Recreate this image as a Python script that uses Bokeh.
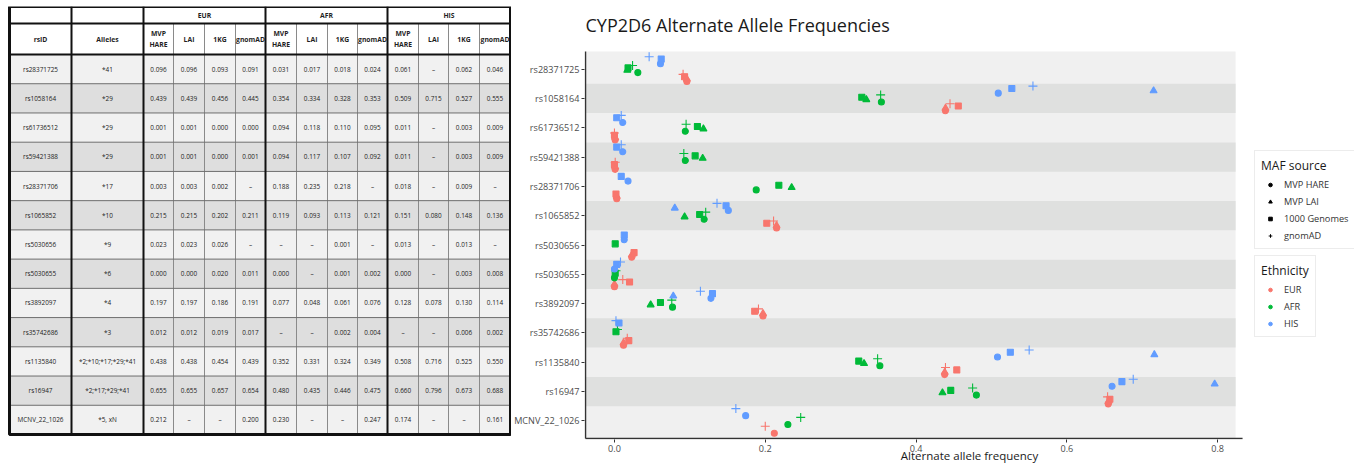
from bokeh.plotting import figure
from bokeh.layouts import row
from bokeh.models import (Range1d, FixedTicker, NumeralTickFormatter, Legend,
                          LegendItem, Label, ColumnDataSource)
from bokeh.embed import file_html
from bokeh.resources import INLINE
from bokeh.core.properties import value

# ------------------------------------------------------------------ data
rsids = ["rs28371725", "rs1058164", "rs61736512", "rs59421388", "rs28371706",
         "rs1065852", "rs5030656", "rs5030655", "rs3892097", "rs35742686",
         "rs1135840", "rs16947", "MCNV_22_1026"]
alleles = ["*41", "*29", "*29", "*29", "*17", "*10", "*9", "*6", "*4", "*3",
           "*2;*10;*17;*29;*41", "*2;*17;*29;*41", "*5, xN"]

ethnicities = ["EUR", "AFR", "HIS"]
maf_sources = ["MVP HARE", "MVP LAI", "1000 Genomes", "gnomAD"]
table_subheads = ["MVP\nHARE", "LAI", "1KG", "gnomAD"]

EUR_HARE = [0.096, 0.439, 0.001, 0.001, 0.003, 0.215, 0.023, 0.000, 0.197, 0.012, 0.438, 0.655, 0.212]
EUR_LAI = [0.096, 0.439, 0.001, 0.001, 0.003, 0.215, 0.023, 0.000, 0.197, 0.012, 0.438, 0.655, None]
EUR_1KG = [0.093, 0.456, 0.000, 0.000, 0.002, 0.202, 0.026, 0.020, 0.186, 0.019, 0.454, 0.657, None]
EUR_GNOMAD = [0.091, 0.445, 0.000, 0.001, None, 0.211, None, 0.011, 0.191, 0.017, 0.439, 0.654, 0.200]

AFR_HARE = [0.031, 0.354, 0.094, 0.094, 0.188, 0.119, None, 0.000, 0.077, None, 0.352, 0.480, 0.230]
AFR_LAI = [0.017, 0.334, 0.118, 0.117, 0.235, 0.093, None, None, 0.048, None, 0.331, 0.435, None]
AFR_1KG = [0.018, 0.328, 0.110, 0.107, 0.218, 0.113, 0.001, 0.001, 0.061, 0.002, 0.324, 0.446, None]
AFR_GNOMAD = [0.024, 0.353, 0.095, 0.092, None, 0.121, None, 0.002, 0.076, 0.004, 0.349, 0.475, 0.247]

HIS_HARE = [0.061, 0.509, 0.011, 0.011, 0.018, 0.151, 0.013, 0.000, 0.128, None, 0.508, 0.660, 0.174]
HIS_LAI = [None, 0.715, None, None, None, 0.080, None, None, 0.078, None, 0.716, 0.796, None]
HIS_1KG = [0.062, 0.527, 0.003, 0.003, 0.009, 0.148, 0.013, 0.003, 0.130, 0.006, 0.525, 0.673, None]
HIS_GNOMAD = [0.046, 0.555, 0.009, 0.009, None, 0.136, None, 0.008, 0.114, 0.002, 0.550, 0.688, 0.161]

x_ticks = [0.0, 0.2, 0.4, 0.6, 0.8]

freqs = {
    "EUR": [EUR_HARE, EUR_LAI, EUR_1KG, EUR_GNOMAD],
    "AFR": [AFR_HARE, AFR_LAI, AFR_1KG, AFR_GNOMAD],
    "HIS": [HIS_HARE, HIS_LAI, HIS_1KG, HIS_GNOMAD],
}

# ------------------------------------------------------------------ styles
FONT = "Open Sans"
eth_color = {"EUR": "#F8766D", "AFR": "#00BA38", "HIS": "#619CFF"}
eth_offset = {"EUR": -0.30, "AFR": 0.0, "HIS": 0.30}
src_marker = {"MVP HARE": "circle", "MVP LAI": "triangle", "1000 Genomes": "square", "gnomAD": "cross"}
src_size = {"MVP HARE": 6, "MVP LAI": 7, "1000 Genomes": 6, "gnomAD": 9}
src_offset = {"MVP HARE": -0.12, "MVP LAI": -0.04, "1000 Genomes": 0.04, "gnomAD": 0.12}

H = 465
TW = 511
SW = 1354 - TW
TOP_B, BOT_B = 6, 26           # shared frame borders (plots in a row share frame edges)
FRAME_BOTTOM = H - BOT_B       # 439

# ------------------------------------------------------------------ table
n = len(rsids)
col_edges = [9, 71, 143, 173, 204, 235, 265, 296, 327, 357, 387, 418, 448, 479, 510]
top, h1, h2, bottom = 6, 23, 54, 434
row_h = (bottom - h2) / n
row_edges = [h2 + i * row_h for i in range(n + 1)]

t = figure(width=TW, height=H, x_range=Range1d(0, TW), y_range=Range1d(FRAME_BOTTOM, TOP_B),
           toolbar_location=None, output_backend="svg", min_border_left=0, min_border_right=0,
           min_border_top=TOP_B, min_border_bottom=BOT_B,
           x_axis_location=None, y_axis_location=None)
t.grid.visible = False
t.outline_line_color = None
t.border_fill_color = "white"
t.background_fill_color = "white"

t.quad(left=[col_edges[0]], right=[col_edges[-1]], top=[top], bottom=[h2],
       fill_color="white", line_color=None)
t.quad(left=[col_edges[0]] * n, right=[col_edges[-1]] * n,
       top=row_edges[:-1], bottom=row_edges[1:],
       fill_color=["#F1F1F1" if i % 2 == 0 else "#DEDEDE" for i in range(n)],
       line_color=None)

thin_cols = [3, 4, 5, 7, 8, 9, 11, 12, 13]
t.segment(x0=[col_edges[c] for c in thin_cols], x1=[col_edges[c] for c in thin_cols],
          y0=[h1] * len(thin_cols), y1=[bottom] * len(thin_cols),
          line_color="#8A8A8A", line_width=1)
t.segment(x0=[col_edges[0]] * (n - 1), x1=[col_edges[-1]] * (n - 1),
          y0=row_edges[1:-1], y1=row_edges[1:-1], line_color="#6E6E6E", line_width=1)
thick_cols = [1, 2, 6, 10]
t.segment(x0=[col_edges[c] for c in thick_cols], x1=[col_edges[c] for c in thick_cols],
          y0=[top] * len(thick_cols), y1=[bottom] * len(thick_cols),
          line_color="#111111", line_width=2)
t.segment(x0=[col_edges[0]] * 2, x1=[col_edges[-1]] * 2, y0=[h1, h2], y1=[h1, h2],
          line_color="#111111", line_width=2)
t.quad(left=[col_edges[0]], right=[col_edges[-1]], top=[top], bottom=[bottom],
       fill_color=None, line_color="#111111", line_width=3)

gx, gy, gt = [], [], []
for g, eth in enumerate(ethnicities):
    a, b = 2 + 4 * g, 6 + 4 * g
    gx.append((col_edges[a] + col_edges[b]) / 2)
    gy.append((top + h1) / 2)
    gt.append(eth)
sx, st = [], []
sx += [(col_edges[0] + col_edges[1]) / 2, (col_edges[1] + col_edges[2]) / 2]
st += ["rsID", "Alleles"]
for g in range(3):
    for k, lab in enumerate(table_subheads):
        c = 2 + 4 * g + k
        sx.append((col_edges[c] + col_edges[c + 1]) / 2)
        st.append(lab)
sy = [(h1 + h2) / 2] * len(sx)
t.text(x=gx + sx, y=gy + sy, text=gt + st, text_align="center", text_baseline="middle",
       text_font=value(FONT), text_font_size="6.8px", text_font_style="bold",
       text_color="#1f1f1f", text_line_height=1.15)

dx, dy, dt = [], [], []
for i in range(n):
    cy = (row_edges[i] + row_edges[i + 1]) / 2
    dx += [(col_edges[0] + col_edges[1]) / 2, (col_edges[1] + col_edges[2]) / 2]
    dy += [cy, cy]
    dt += [rsids[i], alleles[i]]
    for g, eth in enumerate(ethnicities):
        for k in range(4):
            c = 2 + 4 * g + k
            v = freqs[eth][k][i]
            dx.append((col_edges[c] + col_edges[c + 1]) / 2)
            dy.append(cy)
            dt.append("–" if v is None else f"{v:.3f}")
t.text(x=dx, y=dy, text=dt, text_align="center", text_baseline="middle",
       text_font=value(FONT), text_font_size="6.4px", text_color="#222222")

# ------------------------------------------------------------------ scatter
ypos = {r: n - i for i, r in enumerate(rsids)}

LEFT_B = 72                    # frame left edge in the scatter figure
XPX = 755.0                    # px per unit of frequency
X0PX = 102                     # x=0 position inside the scatter figure
YPX = 387.0 / (n + 0.2)        # px per row
PANEL_L = -0.0384
PANEL_R = 0.8238
AXIS_R = 0.833
x_start = (LEFT_B - X0PX) / XPX
x_end = (SW - X0PX) / XPX
y_start = 0.4 - 1.0 / YPX
y_end = y_start + (FRAME_BOTTOM - TOP_B) / YPX

p = figure(width=SW, height=H, x_range=Range1d(x_start, x_end),
           y_range=Range1d(y_start, y_end), toolbar_location=None,
           output_backend="svg", min_border_left=LEFT_B, min_border_right=0,
           min_border_top=TOP_B, min_border_bottom=BOT_B)
p.background_fill_color = "white"
p.border_fill_color = "white"
p.outline_line_color = None
p.grid.visible = False

# panel + alternating bands
p.quad(left=[PANEL_L], right=[PANEL_R], bottom=[0.4], top=[n + 0.6],
       fill_color="#F0F0F0", line_color=None)
dark_rows = [ypos[r] for i, r in enumerate(rsids) if i % 2 == 1]
p.hbar(y=dark_rows, height=1, left=PANEL_L, right=PANEL_R, fill_color="#DFE0DF", line_color=None)

xs, ys, cols, marks, sizes = [], [], [], [], []
for eth in ethnicities:
    for k, src in enumerate(maf_sources):
        for i, r in enumerate(rsids):
            v = freqs[eth][k][i]
            if v is None:
                continue
            xs.append(v)
            ys.append(ypos[r] + eth_offset[eth] + src_offset[src])
            cols.append(eth_color[eth])
            marks.append(src_marker[src])
            sizes.append(src_size[src])
src_data = ColumnDataSource(dict(x=xs, y=ys, c=cols, m=marks, s=sizes))
p.scatter(x="x", y="y", marker="m", size="s", fill_color="c", line_color="c",
          line_width=1.1, source=src_data)

# axis lines (only along the panel)
p.segment(x0=[PANEL_L, PANEL_L], y0=[0.4, 0.4], x1=[PANEL_L, AXIS_R], y1=[n + 0.6, 0.4],
          line_color="#333333", line_width=1.5)

p.yaxis.ticker = FixedTicker(ticks=[ypos[r] for r in rsids])
p.yaxis.major_label_overrides = {ypos[r]: r for r in rsids}
p.xaxis.ticker = FixedTicker(ticks=x_ticks)
p.xaxis.formatter = NumeralTickFormatter(format="0.0")
p.axis.axis_line_color = None
p.axis.major_tick_line_color = "#333333"
p.axis.major_tick_out = 3
p.axis.major_tick_in = 0
p.axis.minor_tick_line_color = None
p.axis.major_label_text_font = FONT
p.axis.major_label_text_font_size = "9.1px"
p.axis.major_label_text_color = "#4D4D4D"
p.axis.major_label_standoff = 2
p.xaxis.axis_label = "Alternate allele frequency"
p.xaxis.axis_label_text_font = FONT
p.xaxis.axis_label_text_font_size = "11.5px"
p.xaxis.axis_label_text_font_style = "normal"
p.xaxis.axis_label_text_color = "#1a1a1a"
p.xaxis.axis_label_standoff = -7

title = Label(x=PANEL_L, y=FRAME_BOTTOM - 24, x_units="data", y_units="screen",
              text="CYP2D6 Alternate Allele Frequencies", text_align="left",
              text_baseline="middle", text_font=FONT, text_font_size="18px",
              text_color="#1a1a1a")
p.add_layout(title)

# legends (dummy renderers hold one invisible NaN point so the legend glyphs render)
nan = float("nan")
src_rs = [p.scatter(x=[nan], y=[nan], marker=src_marker[s], size=5,
                    fill_color="black", line_color="black") for s in maf_sources]
eth_rs = [p.scatter(x=[nan], y=[nan], marker="circle", size=5, fill_color=eth_color[e],
                    line_color=eth_color[e]) for e in ethnicities]

def style_legend(lg):
    lg.title_text_font = FONT
    lg.title_text_font_size = "12px"
    lg.title_text_font_style = "normal"
    lg.title_text_color = "#1a1a1a"
    lg.label_text_font = FONT
    lg.label_text_font_size = "9.2px"
    lg.label_text_color = "#333333"
    lg.border_line_color = "#D9D9D9"
    lg.border_line_width = 1
    lg.background_fill_color = "white"
    lg.background_fill_alpha = 1
    lg.padding = 6
    lg.spacing = 3
    lg.glyph_width = 18
    lg.glyph_height = 9
    lg.label_height = 14
    lg.label_standoff = 5
    lg.margin = 0
    lg.title_standoff = 3

LEG_X = 1253 - (TW + LEFT_B)
leg1 = Legend(items=[LegendItem(label=s, renderers=[r]) for s, r in zip(maf_sources, src_rs)],
              title="MAF source", location=(LEG_X, 190))
leg2 = Legend(items=[LegendItem(label=e, renderers=[r]) for e, r in zip(ethnicities, eth_rs)],
              title="Ethnicity", location=(LEG_X, 102))
style_legend(leg1)
style_legend(leg2)
p.add_layout(leg1)
p.add_layout(leg2)

layout = row(t, p)
open("out.html", "w").write(file_html(layout, INLINE))
